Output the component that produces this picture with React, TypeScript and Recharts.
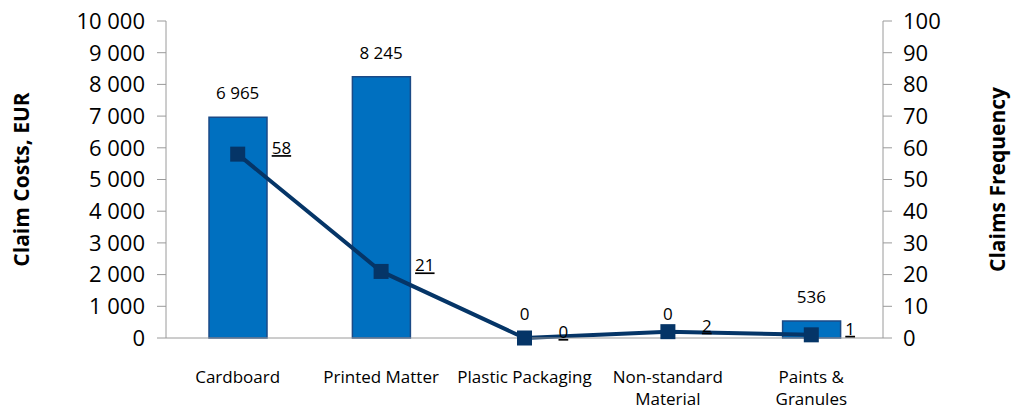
import { ComposedChart, Bar, Line, XAxis, YAxis, LabelList } from "recharts";

const categories = ["Cardboard", "Printed Matter", "Plastic Packaging", "Non-standard Material", "Paints & Granules"];
const categoryLines = [["Cardboard"], ["Printed Matter"], ["Plastic Packaging"], ["Non-standard", "Material"], ["Paints &", "Granules"]];
const claimCosts = [6965, 8245, 0, 0, 536];
const claimFrequency = [58, 21, 0, 2, 1];
const costTicks = [0, 1000, 2000, 3000, 4000, 5000, 6000, 7000, 8000, 9000, 10000];
const freqTicks = [0, 10, 20, 30, 40, 50, 60, 70, 80, 90, 100];

const data = categories.map((name, i) => ({
  name,
  cost: claimCosts[i],
  freq: claimFrequency[i],
}));

const FONT = "'Open Sans', sans-serif";
const AXIS = "#9a9a9a";

const fmt = (v: any) => String(v).replace(/\B(?=(\d{3})+(?!\d))/g, " ");

function CategoryTick(props: any) {
  const { x, y, index } = props;
  const lines = categoryLines[index] || [props.payload.value];
  return (
    <g>
      {lines.map((t, k) => (
        <text key={k} x={x} y={y + 37 + k * 22} textAnchor="middle" fontFamily={FONT} fontSize={17} fill="#000">
          {t}
        </text>
      ))}
    </g>
  );
}

// cost labels hang off an invisible line so that zero values still get one
function CostValue(props: any) {
  const { x, y, value } = props;
  return (
    <text x={x} y={y - 24} dy="0.35em" textAnchor="middle" fontFamily={FONT} fontSize={17} fill="#000">
      {fmt(value)}
    </text>
  );
}

function FreqValue(props: any) {
  const { x, y, value } = props;
  return (
    <text x={x + 34} y={y - 6} dy="0.35em" textAnchor="start" fontFamily={FONT} fontSize={17} fill="#000" textDecoration="underline">
      {value}
    </text>
  );
}

function SquareDot(props: any) {
  const { cx, cy, index } = props;
  return <rect key={`d${index}`} x={cx - 7.5} y={cy - 7.5} width={15} height={15} fill="#053567" />;
}

const yTitle = (text: string, dx: number) => (p: any) => {
  const vb = p.viewBox;
  const cx = vb.x + dx;
  const cy = vb.y + vb.height / 2;
  return (
    <text x={cx} y={cy} dy="0.35em" transform={`rotate(-90 ${cx} ${cy})`} textAnchor="middle" fontFamily={FONT} fontWeight="bold" fontSize={21} fill="#000">
      {text}
    </text>
  );
};

export default function App() {
  return (
    <div style={{ position: "absolute", left: 0, top: 0 }}>
      <ComposedChart width={1012} height={409} data={data} margin={{ top: 21, right: 0, bottom: 0, left: 0 }}>
        <XAxis
          dataKey="name"
          height={71}
          tickLine={false}
          axisLine={{ stroke: AXIS }}
          tick={<CategoryTick />}
          interval={0}
        />
        <YAxis
          yAxisId="left"
          width={166}
          domain={[0, 10000]}
          ticks={costTicks}
          tickFormatter={fmt}
          tickSize={9}
          tickMargin={12}
          axisLine={{ stroke: AXIS }}
          tickLine={{ stroke: AXIS }}
          tick={{ fontFamily: FONT, fontSize: 22, fill: "#000" }}
          label={yTitle("Claim Costs, EUR", 22)}
        />
        <YAxis
          yAxisId="right"
          orientation="right"
          width={129}
          domain={[0, 100]}
          ticks={freqTicks}
          tickSize={9}
          tickMargin={11}
          axisLine={{ stroke: AXIS }}
          tickLine={{ stroke: AXIS }}
          tick={{ fontFamily: FONT, fontSize: 22, fill: "#000" }}
          label={yTitle("Claims Frequency", 115)}
        />
        <Bar yAxisId="left" dataKey="cost" barSize={58} fill="#0070C0" stroke="#1B4A86" strokeWidth={1.5} isAnimationActive={false} />
        <Line
          yAxisId="left"
          dataKey="cost"
          stroke="none"
          dot={false}
          activeDot={false}
          isAnimationActive={false}
        >
          <LabelList dataKey="cost" content={<CostValue />} />
        </Line>
        <Line
          yAxisId="right"
          dataKey="freq"
          stroke="#053567"
          strokeWidth={4}
          dot={SquareDot}
          activeDot={false}
          isAnimationActive={false}
        >
          <LabelList dataKey="freq" content={<FreqValue />} />
        </Line>
      </ComposedChart>
    </div>
  );
}
